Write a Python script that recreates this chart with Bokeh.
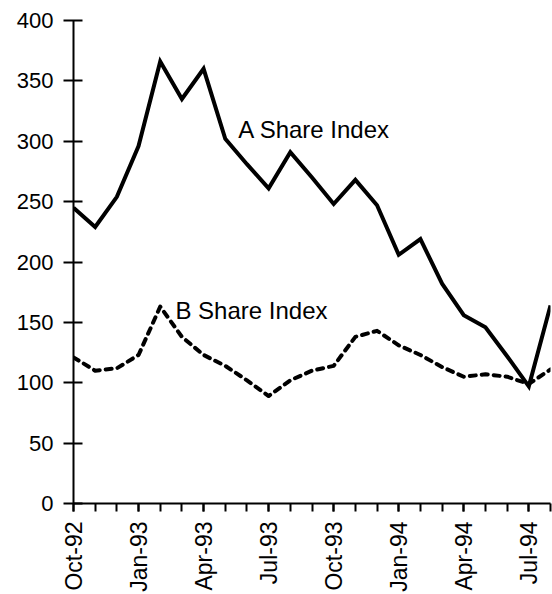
import math
from bokeh.plotting import figure
from bokeh.models import FixedTicker, Range1d, Label
from bokeh.embed import file_html
from bokeh.resources import INLINE

months = ["Oct-92", "Nov-92", "Dec-92", "Jan-93", "Feb-93", "Mar-93", "Apr-93",
          "May-93", "Jun-93", "Jul-93", "Aug-93", "Sep-93", "Oct-93", "Nov-93",
          "Dec-93", "Jan-94", "Feb-94", "Mar-94", "Apr-94", "May-94", "Jun-94",
          "Jul-94", "Aug-94"]
a_share = [245, 229, 254, 296, 366, 335, 360, 302, 281, 261, 291, 270, 248,
           268, 247, 206, 219, 182, 156, 146, 122, 97, 164]
b_share = [121, 110, 112, 123, 163, 138, 123, 114, 102, 89, 102, 110, 114,
           138, 143, 131, 123, 113, 105, 107, 105, 99, 111]
y_ticks = [0, 50, 100, 150, 200, 250, 300, 350, 400]
label_months = [0, 3, 6, 9, 12, 15, 18, 21]

FONT = "Liberation Sans"
x = list(range(len(months)))

p = figure(width=552, height=594, output_backend="svg", toolbar_location=None,
           x_range=Range1d(0, len(months) - 1), y_range=Range1d(0, 400),
           min_border_left=73, min_border_right=2, min_border_top=20,
           min_border_bottom=91)
p.outline_line_color = None
p.xgrid.visible = False
p.ygrid.visible = False
p.background_fill_color = "white"
p.border_fill_color = "white"

p.line(x, a_share, line_color="black", line_width=4, line_join="miter")
p.line(x, b_share, line_color="black", line_width=4, line_dash="6 6",
       line_cap="round", line_join="round")

p.add_layout(Label(x=7.6, y=310, text="A Share Index", text_font=FONT,
                   text_font_size="24px", text_color="black",
                   text_baseline="alphabetic"))
p.add_layout(Label(x=4.7, y=160, text="B Share Index", text_font=FONT,
                   text_font_size="24px", text_color="black",
                   text_baseline="alphabetic"))

# y axis
ya = p.yaxis[0]
ya.ticker = FixedTicker(ticks=y_ticks)
ya.axis_line_width = 2
ya.major_tick_line_width = 2
ya.major_tick_in = 9
ya.major_tick_out = 10
ya.minor_tick_line_color = None
ya.major_label_standoff = 10
ya.major_label_text_font = FONT
ya.major_label_text_font_size = "22px"
ya.major_label_text_color = "black"
ya.axis_line_color = "black"
ya.major_tick_line_color = "black"

# x axis
xa = p.xaxis[0]
xa.ticker = FixedTicker(ticks=label_months, minor_ticks=x)
xa.major_label_overrides = {i: months[i] for i in label_months}
xa.major_label_orientation = math.pi / 2
xa.axis_line_width = 2
xa.axis_line_color = "black"
xa.major_tick_line_width = 2
xa.minor_tick_line_width = 2
xa.major_tick_line_color = "black"
xa.minor_tick_line_color = "black"
xa.major_tick_in = 0
xa.major_tick_out = 8
xa.minor_tick_in = 0
xa.minor_tick_out = 8
xa.major_label_standoff = 10
xa.major_label_text_font = FONT
xa.major_label_text_font_size = "23px"
xa.major_label_text_color = "black"

open("out.html", "w").write(file_html(p, INLINE))
